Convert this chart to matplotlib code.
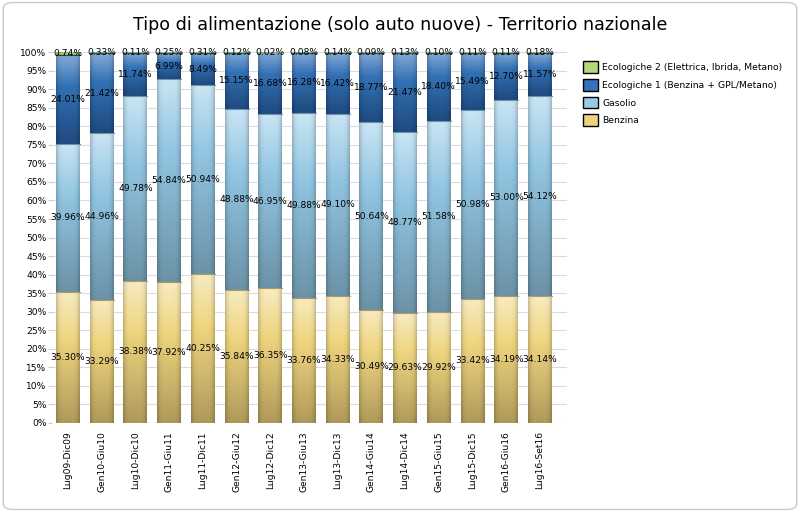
import numpy as np
import matplotlib
matplotlib.use('Agg')
import matplotlib.pyplot as plt
from matplotlib.patches import Patch, FancyBboxPatch
from matplotlib.ticker import FuncFormatter, MultipleLocator

periods = ['Lug09-Dic09', 'Gen10-Giu10', 'Lug10-Dic10', 'Gen11-Giu11', 'Lug11-Dic11',
           'Gen12-Giu12', 'Lug12-Dic12', 'Gen13-Giu13', 'Lug13-Dic13', 'Gen14-Giu14',
           'Lug14-Dic14', 'Gen15-Giu15', 'Lug15-Dic15', 'Gen16-Giu16', 'Lug16-Set16']
benzina = [35.30, 33.29, 38.38, 37.92, 40.25, 35.84, 36.35, 33.76, 34.33, 30.49,
           29.63, 29.92, 33.42, 34.19, 34.14]
gasolio = [39.96, 44.96, 49.78, 54.84, 50.94, 48.88, 46.95, 49.88, 49.10, 50.64,
           48.77, 51.58, 50.98, 53.00, 54.12]
eco1 = [24.01, 21.42, 11.74, 6.99, 8.49, 15.15, 16.68, 16.28, 16.42, 18.77,
        21.47, 18.40, 15.49, 12.70, 11.57]
eco2 = [0.74, 0.33, 0.11, 0.25, 0.31, 0.12, 0.02, 0.08, 0.14, 0.09,
        0.13, 0.10, 0.11, 0.11, 0.18]

series = [
    ('Benzina', benzina, '#f0d27e', ['#f7ebc0', '#f0d680', '#b09a5a']),
    ('Gasolio', gasolio, '#98cbe8', ['#c9e5f4', '#92c6e3', '#6b93a8']),
    ('Ecologiche 1 (Benzina + GPL/Metano)', eco1, '#3472b9', ['#86aad6', '#3372b6', '#1f4a80']),
    ('Ecologiche 2 (Elettrica, Ibrida, Metano)', eco2, '#b2d878', ['#cfe6a4', '#b2d878', '#8fb458']),
]

plt.rcParams['font.family'] = ['DejaVu Sans']
fig = plt.figure(figsize=(8, 5.12), dpi=100)
fig.patches.append(FancyBboxPatch((0.004, 0.005), 0.992, 0.99, boxstyle='round,pad=0,rounding_size=0.012',
                                  transform=fig.transFigure, facecolor='white', edgecolor='#c8c8c8',
                                  linewidth=1, zorder=-10))
ax = fig.add_axes([0.065, 0.174, 0.644, 0.724])
ax.set_facecolor('none')

x = np.arange(len(periods))
width = 0.71
bottom = np.zeros(len(periods))


def gradient_img(stops):
    # vertical gradient (light top, dark bottom) with darker side edges
    n = 64
    t = np.linspace(0, 1, n)
    cols = np.array([matplotlib.colors.to_rgb(c) for c in stops])
    pos = [0, 0.35, 1]
    rgb = np.stack([np.interp(t, pos, cols[:, k]) for k in range(3)], axis=1)
    h = np.linspace(-1, 1, 32)
    shade = 1 - 0.2 * np.abs(h) ** 5
    img = rgb[:, None, :] * shade[None, :, None]
    return np.clip(img, 0, 1)


for name, vals, col, stops in series:
    bars = ax.bar(x, vals, width, bottom=bottom, color=col, edgecolor='none', zorder=2)
    img = gradient_img(stops)
    edge = matplotlib.colors.to_rgb(stops[2])
    for b, v in zip(bars, vals):
        x0, y0 = b.get_x(), b.get_y()
        im = ax.imshow(img, extent=(x0, x0 + b.get_width(), y0, y0 + b.get_height()),
                       aspect='auto', origin='upper', zorder=3, interpolation='bilinear')
        im.set_clip_path(b)
        ax.plot([x0, x0 + b.get_width()], [y0 + b.get_height()] * 2, color=edge, lw=0.8, zorder=4)
    for xi, b0, v in zip(x, bottom, vals):
        ax.text(xi, b0 + v / 2, f'{v:.2f}%', ha='center', va='center', fontsize=6.6, zorder=6)
    bottom = bottom + np.array(vals)

ax.set_xlim(-0.475, 14.81)
ax.set_ylim(0, 100)
ax.yaxis.set_major_locator(MultipleLocator(5))
ax.yaxis.set_major_formatter(FuncFormatter(lambda v, p: f'{v:.0f}%'))
ax.set_xticks(x)
ax.set_xticklabels(periods, rotation=90, fontsize=6.6)
ax.tick_params(axis='y', labelsize=6.6, length=3, color='#c8c8c8', pad=1)
ax.tick_params(axis='x', length=0, pad=6)
ax.grid(axis='y', color='#dcdcdc', lw=0.8, zorder=0)
for s in ax.spines.values():
    s.set_visible(False)

fig.text(0.5, 0.952, 'Tipo di alimentazione (solo auto nuove) - Territorio nazionale',
         ha='center', va='center', fontsize=12.6)

handles = [Patch(facecolor=c, edgecolor='black', label=n) for n, _, c, _ in series[::-1]]
fig.legend(handles=handles, loc='upper left', bbox_to_anchor=(0.724, 0.888), frameon=False,
           fontsize=6.7, handlelength=1.6, handleheight=1.6, handletextpad=0.5, labelspacing=0.62,
           borderaxespad=0)

fig.savefig('out.png', dpi=100)
